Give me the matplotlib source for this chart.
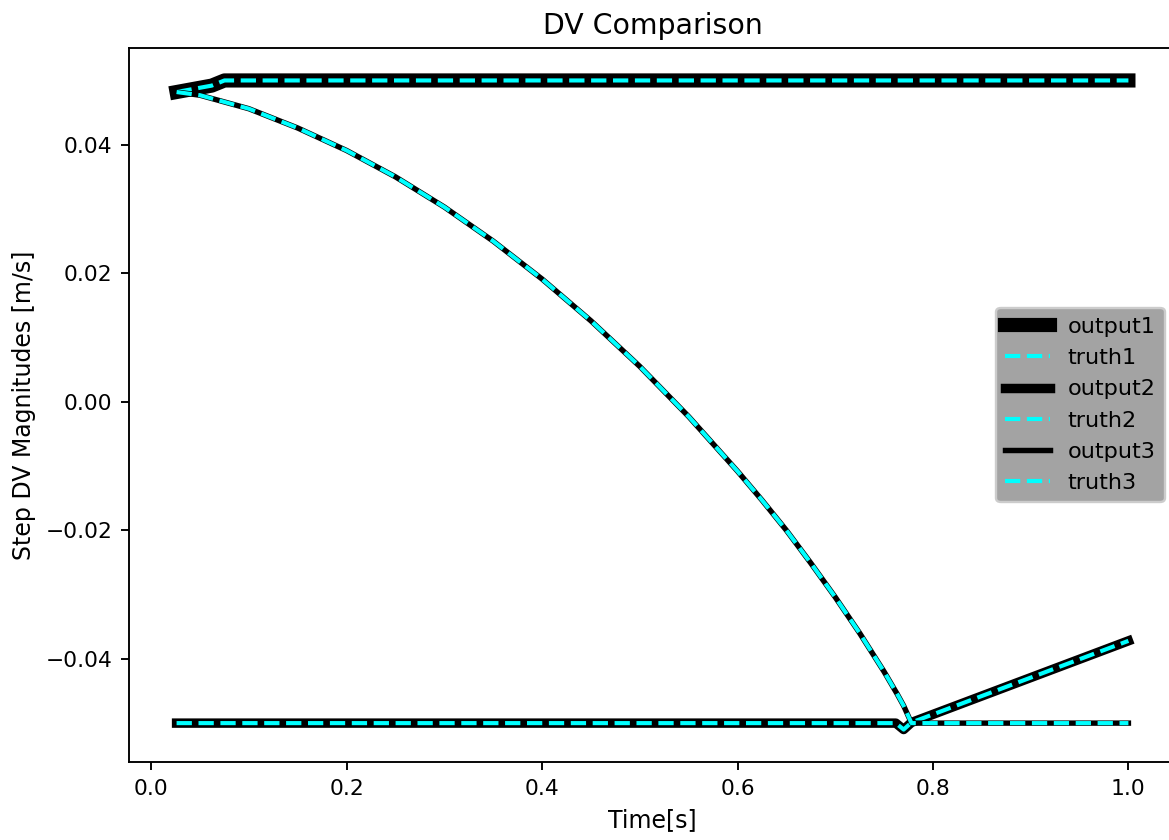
#!/usr/bin/env python3
# coding: utf-8

import matplotlib
matplotlib.use('Agg')
import matplotlib.pyplot as plt

# output1 / truth1: ramps up to the +0.05 limit
t1 = [0.026, 0.062, 0.075, 1.0]
dv1 = [0.0482, 0.0492, 0.0500, 0.0500]

# output2 / truth2: sits on the -0.05 limit, small dip, then ramps up
t2 = [0.026, 0.762, 0.770, 0.778, 1.0]
dv2 = [-0.0500, -0.0500, -0.0510, -0.0499, -0.0372]

# output3 / truth3: smooth decay down to the -0.05 limit
t3 = [0.026, 0.05, 0.10, 0.15, 0.20, 0.25, 0.30, 0.35, 0.40, 0.45, 0.50,
      0.55, 0.60, 0.625, 0.65, 0.675, 0.70, 0.725, 0.75, 0.7635, 0.770, 0.778, 1.0]
dv3 = [0.0482, 0.0477, 0.0456, 0.0426, 0.0391, 0.0350, 0.0303, 0.0250, 0.0191,
       0.0126, 0.0055, -0.0023, -0.0108, -0.0153, -0.0200, -0.0251, -0.0304,
       -0.0360, -0.0420, -0.0455, -0.0473, -0.0500, -0.0500]

dpi = 170
fig = plt.figure(figsize=(1169 / dpi, 840 / dpi), dpi=dpi)
ax = fig.add_axes([129 / 1169, 78 / 840, 1047 / 1169, 714 / 840])

ax.plot(t1, dv1, 'k', lw=6, label='output1')
ax.plot(t1, dv1, '--', color='cyan', lw=1.75, label='truth1')
ax.plot(t2, dv2, 'k', lw=4, label='output2')
ax.plot(t2, dv2, '--', color='cyan', lw=1.75, label='truth2')
ax.plot(t3, dv3, 'k', lw=2.3, label='output3')
ax.plot(t3, dv3, '--', color='cyan', lw=1.75, label='truth3')

ax.tick_params(labelsize=9.2)
ax.set_title('DV Comparison')
ax.set_xlabel('Time[s]')
ax.set_ylabel('Step DV Magnitudes [m/s]')
ax.legend(loc='center right', facecolor='#a3a3a3', framealpha=1, fontsize=9.5)

fig.savefig('out.png', dpi=dpi)
